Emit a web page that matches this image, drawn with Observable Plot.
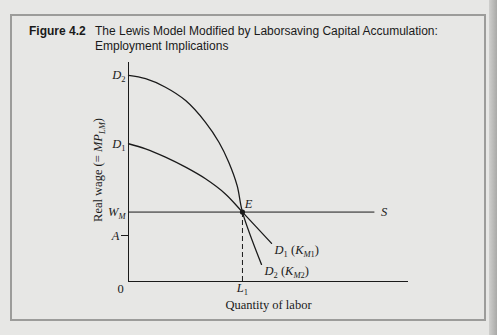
<!DOCTYPE html>
<html>
<head>
<meta charset="utf-8">
<script src="https://cdn.jsdelivr.net/npm/d3@7"></script>
<script src="https://cdn.jsdelivr.net/npm/@observablehq/plot@0.6"></script>
<style>
  html, body { margin: 0; padding: 0; }
  body { width: 497px; height: 335px; background: #e7e7e5; position: relative; overflow: hidden; }
  #frame { position: absolute; left: 10px; top: 14px; width: 472px; height: 303px; border: 2px solid #9c9c9a; }
  #strip { position: absolute; left: 489px; top: 0; width: 8px; height: 335px; background: linear-gradient(to right, #cfcfcd, #a9a9a7); }
  #title { position: absolute; left: 29px; top: 24px; font-family: "Liberation Sans", Arial, sans-serif; font-size: 12px; line-height: 14.5px; color: #1a1a1a; display: flex; }
  #title .fig { font-weight: bold; width: 66px; flex: none; }
  #chart { position: absolute; left: 0; top: 0; }
</style>
</head>
<body>
<div id="frame"></div>
<div id="strip"></div>
<div id="chart"></div>
<div id="title"><div class="fig">Figure 4.2</div><div>The Lewis Model Modified by Laborsaving Capital Accumulation:<br>Employment Implications</div></div>
<script>
// ---- data (x: quantity of labor, y: real wage; arbitrary 0–100 units)
const d2X = [0, 6.1, 13.2, 20.4, 27.5, 32.3, 35.8, 38.8, 40.7, 47.5];
const d2Y = [94.1, 92.6, 88.7, 82.6, 72.7, 63.6, 54.5, 43.8, 31.7, 7.8];
const d1X = [0, 6.1, 13.2, 20.4, 27.5, 34.6, 40.7, 51.1];
const d1Y = [62.9, 60.6, 56.8, 52.2, 46.9, 40.0, 31.7, 17.4];
const wageTicks = [94.1, 62.9, 31.7];
const wageTickLabels = ["*D*_{2}", "*D*_{1}", "*W*_{*M*}"];
const aValue = 21;
const aLabel = "*A*";
const wM = 31.7;
const L1 = 40.7;
const sEnd = 88;
const curveLabels = ["*D*_{1} (*K*_{*M*1})", "*D*_{2} (*K*_{*M*2})"];
const xTitle = "Quantity of labor";
const yTitle = "Real wage (= *MP*_{*LM*})";

const d2 = d2X.map((x, i) => ({x, y: d2Y[i]}));
const d1 = d1X.map((x, i) => ({x, y: d1Y[i]}));
const ends = [
  {x: d1X[d1X.length - 1], y: d1Y[d1Y.length - 1], label: curveLabels[0]},
  {x: d2X[d2X.length - 1], y: d2Y[d2Y.length - 1], label: curveLabels[1]}
];
const yT = wageTicks.map((v, i) => ({v, label: wageTickLabels[i]}));
const ink = "#1a1a1a";

const plot = Plot.plot({
  width: 497, height: 335,
  marginLeft: 128, marginRight: 89, marginTop: 62, marginBottom: 54,
  x: {domain: [0, 100], axis: null},
  y: {domain: [0, 100], axis: null},
  style: {fontFamily: "'Liberation Serif', 'Times New Roman', serif", fontSize: "12.5px", color: ink, background: "transparent", overflow: "visible"},
  marks: [
    Plot.ruleX([0], {y1: 0, y2: 100, stroke: ink, strokeWidth: 1}),
    Plot.ruleY([0], {x1: 0, x2: 100, stroke: ink, strokeWidth: 1}),
    Plot.ruleY([wM], {x1: 0, x2: sEnd, stroke: ink, strokeWidth: 1}),
    Plot.ruleX([L1], {y1: 0, y2: wM, stroke: ink, strokeWidth: 1, strokeDasharray: "5,3"}),
    Plot.line(d2, {x: "x", y: "y", curve: "catmull-rom", stroke: ink, strokeWidth: 1.3}),
    Plot.line(d1, {x: "x", y: "y", curve: "catmull-rom", stroke: ink, strokeWidth: 1.3}),
    Plot.dot([{x: L1, y: wM}], {x: "x", y: "y", r: 2.6, fill: ink}),
    Plot.text(yT, {x: () => 0, y: "v", text: "label", textAnchor: "end", dx: -3, fill: ink}),
    Plot.axisY([aValue], {anchor: "left", tickSize: 7, tickPadding: 2, tickFormat: () => aLabel, label: null, stroke: ink, fill: ink}),
    Plot.text([0], {x: 0, y: 0, text: () => "0", dx: -8, dy: 7, fill: ink}),
    Plot.text([L1], {x: d => d, y: () => 0, text: () => "*L*_{1}", dy: 6, lineAnchor: "middle", fill: ink}),
    Plot.text([{x: L1, y: wM}], {x: "x", y: "y", text: () => "*E*", dx: 6, dy: -8, fill: ink}),
    Plot.text([{x: sEnd, y: wM}], {x: "x", y: "y", text: () => "*S*", dx: 6, textAnchor: "start", fill: ink}),
    Plot.text(ends, {x: "x", y: "y", text: "label", textAnchor: "start", dx: 3, dy: 7, fill: ink}),
    Plot.text([xTitle], {frameAnchor: "bottom", text: d => d, dy: 23, lineAnchor: "middle", fill: ink}),
    Plot.text([yTitle], {frameAnchor: "left", text: d => d, rotate: -90, textAnchor: "middle", lineAnchor: "middle", dx: -31, dy: -2, fill: ink})
  ]
});

// rich text: *italic* and _{subscript}
function richify(svg) {
  const NS = "http://www.w3.org/2000/svg";
  svg.querySelectorAll("text").forEach(t => {
    const s = t.textContent;
    if (!/[*_]/.test(s)) return;
    const segs = [];
    let italic = false, i = 0, buf = "";
    const flush = (sub) => { if (buf) segs.push({text: buf, italic, sub}); buf = ""; };
    while (i < s.length) {
      const c = s[i];
      if (c === "*") { flush(false); italic = !italic; i++; }
      else if (c === "_" && s[i + 1] === "{") {
        flush(false);
        const j = s.indexOf("}", i);
        const inner = s.slice(i + 2, j);
        let it2 = false;
        for (const ch of inner) {
          if (ch === "*") { if (buf) segs.push({text: buf, italic: it2, sub: true}); buf = ""; it2 = !it2; }
          else buf += ch;
        }
        if (buf) segs.push({text: buf, italic: it2, sub: true});
        buf = "";
        i = j + 1;
      } else { buf += c; i++; }
    }
    flush(false);
    t.textContent = "";
    let inSub = false;
    for (const g of segs) {
      const ts = document.createElementNS(NS, "tspan");
      ts.textContent = g.text;
      if (g.italic) ts.setAttribute("font-style", "italic");
      if (g.sub) { ts.setAttribute("font-size", "8.5px"); if (!inSub) ts.setAttribute("dy", "3"); inSub = true; }
      else if (inSub) { ts.setAttribute("dy", "-3"); inSub = false; }
      t.appendChild(ts);
    }
  });
}
richify(plot);
document.getElementById("chart").appendChild(plot);
</script>
</body>
</html>
